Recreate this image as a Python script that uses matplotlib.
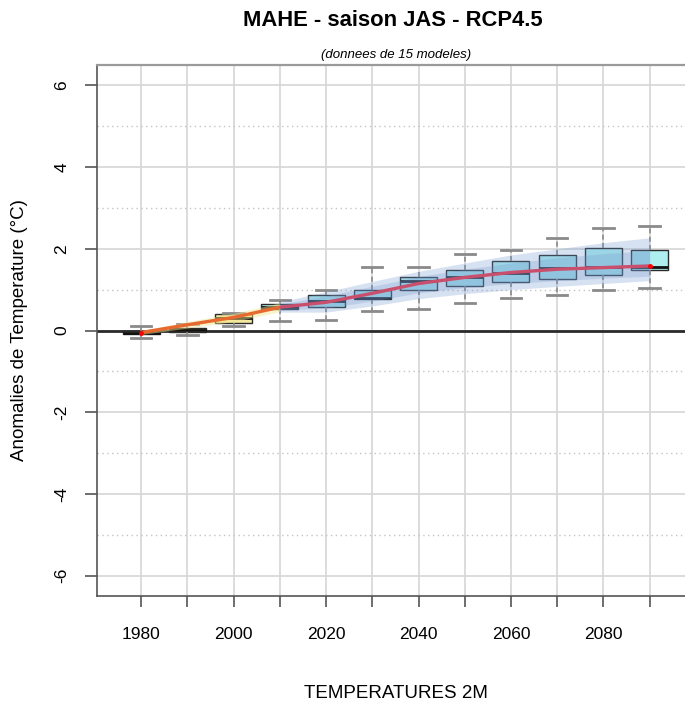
import matplotlib
matplotlib.use("Agg")
import matplotlib.pyplot as plt
import numpy as np

plt.rcParams['font.family'] = ['Liberation Sans', 'DejaVu Sans']

# ---------------- data ----------------
years = [1980, 1990, 2000, 2010, 2020, 2030, 2040, 2050, 2060, 2070, 2080, 2090]
whis_lo = [-0.19, -0.12, 0.10, 0.23, 0.26, 0.47, 0.53, 0.67, 0.79, 0.88, 1.00, 1.04]
q1 = [-0.08, -0.04, 0.19, 0.53, 0.57, 0.78, 1.00, 1.09, 1.18, 1.27, 1.37, 1.47]
med = [-0.05, 0.02, 0.30, 0.58, 0.73, 0.80, 1.21, 1.32, 1.40, 1.52, 1.55, 1.55]
q3 = [-0.02, 0.05, 0.41, 0.64, 0.87, 0.98, 1.32, 1.47, 1.69, 1.84, 2.03, 1.98]
whis_hi = [0.11, 0.16, 0.44, 0.74, 0.98, 1.55, 1.55, 1.88, 1.98, 2.27, 2.51, 2.55]
n_hist = 3  # first boxes are historical

hist_years = [1980, 1990, 2000, 2010]
hist_mean = [-0.05, 0.14, 0.32, 0.57]
hist_lo = [-0.10, 0.06, 0.22, 0.46]
hist_hi = [0.00, 0.22, 0.42, 0.68]

fut_years = [2010, 2020, 2030, 2040, 2050, 2060, 2070, 2080, 2090]
fut_mean = [0.57, 0.69, 0.91, 1.15, 1.30, 1.42, 1.50, 1.54, 1.58]
fut_out_lo = [0.45, 0.45, 0.60, 0.78, 0.90, 1.00, 1.08, 1.15, 1.22]
fut_out_hi = [0.70, 0.95, 1.20, 1.45, 1.65, 1.85, 2.00, 2.15, 2.27]
fut_in_lo = [0.50, 0.55, 0.72, 0.92, 1.05, 1.15, 1.22, 1.28, 1.33]
fut_in_hi = [0.64, 0.85, 1.08, 1.32, 1.50, 1.65, 1.78, 1.88, 1.95]

xtick_years = list(range(1980, 2091, 10))
xlabel_years = [1980, 2000, 2020, 2040, 2060, 2080]
yticks = [-6, -4, -2, 0, 2, 4, 6]
yminor = [-5, -3, -1, 1, 3, 5]

title = "MAHE - saison JAS - RCP4.5"
subtitle = "(donnees de 15 modeles)"
xlabel = "TEMPERATURES 2M"
ylabel = "Anomalies de Temperature (\u00b0C)"

# ---------------- figure ----------------
W, H = 685, 706
fig = plt.figure(figsize=(W / 100, H / 100), dpi=100)
ax = fig.add_axes([97 / W, (H - 596) / H, 1 - 97 / W + 0.001, (596 - 65) / H])
ax.set_xlim(1970.45, 2097.8)
ax.set_ylim(-6.5, 6.5)

# grid
for x in xtick_years:
    ax.axvline(x, color='#d6d6d6', lw=1.2, zorder=0)
for y in yticks:
    ax.axhline(y, color='#d6d6d6', lw=1.2, zorder=0)
for y in yminor:
    ax.axhline(y, color='#c4c4c4', lw=1.0, ls=(0, (1, 2.5)), zorder=0)
ax.axhline(0, color='#2a2a2a', lw=2.0, zorder=1)

# boxplots
stats = []
for i in range(len(years)):
    stats.append(dict(med=med[i], q1=q1[i], q3=q3[i], whislo=whis_lo[i], whishi=whis_hi[i], fliers=[]))
bp = ax.bxp(stats, positions=years, widths=8.0, capwidths=4.4, patch_artist=True,
            showfliers=False, manage_ticks=False,
            boxprops=dict(edgecolor='#2a2a2a', linewidth=1.0),
            whiskerprops=dict(color='#8a8a8a', linestyle=(0, (3, 2)), linewidth=1.2),
            capprops=dict(color='#8a8a8a', linewidth=2.0),
            medianprops=dict(color='#111111', linewidth=2.0))
for i, patch in enumerate(bp['boxes']):
    patch.set_facecolor('#f3e9a0' if i < n_hist else '#aeeeee')
    patch.set_zorder(2)
for k in ('whiskers', 'caps', 'medians'):
    for l in bp[k]:
        l.set_zorder(2)

# envelopes
ax.fill_between(hist_years, hist_lo, hist_hi, color='#f0e68c', alpha=0.45, lw=0, zorder=3)
ax.fill_between(fut_years, fut_out_lo, fut_out_hi, color='#6f95cf', alpha=0.28, lw=0, zorder=3)
ax.fill_between(fut_years, fut_in_lo, fut_in_hi, color='#6f95cf', alpha=0.25, lw=0, zorder=3)

# mean lines
ax.plot(hist_years, hist_mean, color='#e8692f', lw=2.4, zorder=4, solid_capstyle='butt')
ax.plot(fut_years, fut_mean, color='#c94f6d', lw=2.4, zorder=4, solid_capstyle='butt')
ax.plot([hist_years[0], fut_years[-1]], [hist_mean[0], fut_mean[-1]], 'o', color='red',
        ms=2.5, zorder=5, lw=0)

# spines
ax.spines['right'].set_visible(False)
ax.spines['top'].set_color('#9a9a9a')
ax.spines['top'].set_linewidth(1.6)
ax.spines['left'].set_color('#555555')
ax.spines['bottom'].set_color('#555555')
ax.spines['left'].set_linewidth(1.2)
ax.spines['bottom'].set_linewidth(1.2)

# ticks
ax.set_xticks(xtick_years)
ax.set_xticklabels([str(y) if y in xlabel_years else '' for y in xtick_years])
ax.set_yticks(yticks)
ax.set_yticklabels([str(y) for y in yticks])
ax.tick_params(axis='x', length=8, width=1.2, color='#555555', pad=14, labelsize=12.5)
ax.tick_params(axis='y', length=9, width=1.2, color='#555555', pad=11, labelsize=12.5)
for lab in ax.get_yticklabels():
    lab.set_rotation(90)
    lab.set_va('center')
    lab.set_ha('right')

# texts
fig.text(393 / W, 1 - 20 / H, title, ha='center', va='center', fontsize=15.8, fontweight='bold')
fig.text(396 / W, 1 - 55 / H, subtitle, ha='center', va='center', fontsize=9.5, style='italic')
fig.text(396 / W, 1 - 693 / H, xlabel, ha='center', va='center', fontsize=13.5)
fig.text(20 / W, 1 - 330 / H, ylabel, ha='center', va='center', fontsize=13.5, rotation=90)

fig.savefig('out.png', dpi=100)
